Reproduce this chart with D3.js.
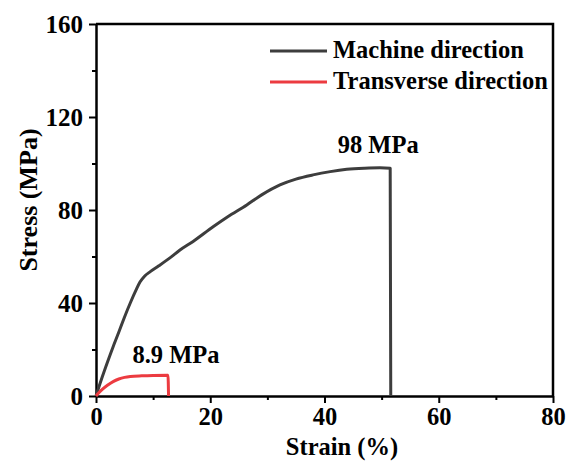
<!DOCTYPE html>
<html>
<head>
<meta charset="utf-8">
<script src="https://cdn.jsdelivr.net/npm/d3@7"></script>
<style>
  body { margin: 0; background: #fff; }
  svg text { font-family: "Liberation Serif", "Times New Roman", serif; font-weight: bold; fill: #000; }
</style>
</head>
<body>
<div id="chart"></div>
<script>
// data
const machineStrain = [0, 1, 2, 3, 4, 5, 6, 7, 7.7, 8.5, 9.5, 11, 13, 14.7, 17, 20.5, 23, 26.4, 29, 32.2, 35, 38, 41, 43.9, 47, 49.7, 51.5, 51.6]
const machineStress = [0, 7.5, 14.5, 21.2, 27.5, 34, 40, 45.5, 49, 51.5, 53.5, 56, 59.5, 62.8, 66.5, 72.8, 77, 82.2, 86.5, 90.8, 93.3, 95.1, 96.5, 97.5, 98, 98.2, 98, 0]
const transStrain = [0, 0.5, 1, 2, 3, 4, 5, 6, 8, 10, 12.6, 12.7]
const transStress = [0, 1.4, 2.6, 4.6, 6.2, 7.3, 8.0, 8.4, 8.7, 8.85, 8.9, 0]
const xTicks = [0, 20, 40, 60, 80]
const yTicks = [0, 40, 80, 120, 160]
const seriesNames = ["Machine direction", "Transverse direction"]
const peakLabels = ["98 MPa", "8.9 MPa"]

const WIDTH = 570
const HEIGHT = 462
const margin = { left: 96, right: 17, top: 24, bottom: 66 }

const svg = d3.select("#chart")
  .append("svg")
  .attr("width", WIDTH)
  .attr("height", HEIGHT)

const x = d3.scaleLinear().domain([0, 80]).range([margin.left, WIDTH - margin.right])
const y = d3.scaleLinear().domain([0, 160]).range([HEIGHT - margin.bottom, margin.top])

const colors = ["#3d3d3d", "#ec3b40"]

// minor ticks
svg.append("g")
  .attr("transform", `translate(0, ${y(0)})`)
  .call(d3.axisBottom(x).tickValues([10, 30, 50, 70]).tickSize(4).tickFormat(""))
  .call(g => g.select(".domain").remove())
  .selectAll("line").attr("stroke-width", 2)
svg.append("g")
  .attr("transform", `translate(${x(0)}, 0)`)
  .call(d3.axisLeft(y).tickValues([20, 60, 100, 140]).tickSize(4).tickFormat(""))
  .call(g => g.select(".domain").remove())
  .selectAll("line").attr("stroke-width", 2)

// major axes
const xAxis = svg.append("g")
  .attr("transform", `translate(0, ${y(0)})`)
  .call(d3.axisBottom(x).tickValues(xTicks).tickSize(7).tickPadding(5).tickSizeOuter(0))
xAxis.selectAll("text").style("font-size", "24.5px")
xAxis.selectAll("line").attr("stroke-width", 2)
xAxis.select(".domain").attr("stroke-width", 2.5)

const yAxis = svg.append("g")
  .attr("transform", `translate(${x(0)}, 0)`)
  .call(d3.axisLeft(y).tickValues(yTicks).tickSize(7).tickPadding(6).tickSizeOuter(0))
yAxis.selectAll("text").style("font-size", "25px")
yAxis.selectAll("line").attr("stroke-width", 2)
yAxis.select(".domain").attr("stroke-width", 2.5)

// top and right frame
svg.append("path")
  .attr("d", `M${x(0)},${y(160)}H${x(80)}V${y(0)}`)
  .attr("fill", "none")
  .attr("stroke", "#000")
  .attr("stroke-width", 2.5)

// curves
const line = d3.line().x(d => x(d[0])).y(d => y(d[1])).curve(d3.curveMonotoneX)
const machine = machineStrain.map((s, i) => [s, machineStress[i]])
const trans = transStrain.map((s, i) => [s, transStress[i]])

svg.append("path")
  .datum(machine)
  .attr("d", line)
  .attr("fill", "none")
  .attr("stroke", colors[0])
  .attr("stroke-width", 3)
  .attr("stroke-linejoin", "round")

svg.append("path")
  .datum(trans)
  .attr("d", line)
  .attr("fill", "none")
  .attr("stroke", colors[1])
  .attr("stroke-width", 3)
  .attr("stroke-linejoin", "round")

// peak labels
svg.append("text")
  .attr("x", x(49.4))
  .attr("y", y(104.5))
  .attr("text-anchor", "middle")
  .style("font-size", "24.5px")
  .text(peakLabels[0])

svg.append("text")
  .attr("x", x(14))
  .attr("y", y(14.2))
  .attr("text-anchor", "middle")
  .style("font-size", "24.5px")
  .text(peakLabels[1])

// axis titles
svg.append("text")
  .attr("x", 342)
  .attr("y", 455)
  .attr("text-anchor", "middle")
  .style("font-size", "24.5px")
  .text("Strain (%)")

svg.append("text")
  .attr("transform", `translate(37, 200) rotate(-90)`)
  .attr("text-anchor", "middle")
  .style("font-size", "26px")
  .text("Stress (MPa)")

// legend
const legend = svg.append("g")
seriesNames.forEach((name, i) => {
  const ly = 51 + i * 31
  legend.append("line")
    .attr("x1", 270).attr("x2", 327)
    .attr("y1", ly).attr("y2", ly)
    .attr("stroke", colors[i])
    .attr("stroke-width", 3)
  legend.append("text")
    .attr("x", 333)
    .attr("y", ly + 7)
    .style("font-size", "24.5px")
    .text(name)
})
</script>
</body>
</html>
